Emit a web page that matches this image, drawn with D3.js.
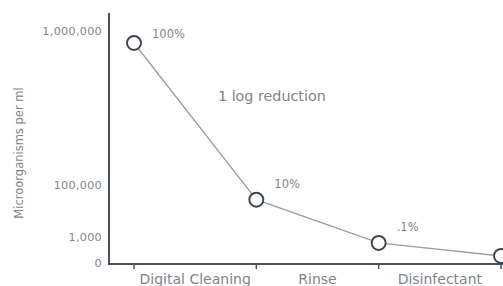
<!DOCTYPE html>
<html><head><meta charset="utf-8">
<script src="https://cdn.jsdelivr.net/npm/d3@7"></script>
<style>
html,body{margin:0;padding:0;background:#fff;overflow:hidden}
svg{display:block}
text{font-family:"DejaVu Sans",sans-serif;fill:#80858b}
</style></head><body>
<svg id="c" width="503" height="286"></svg>
<script>
const stages = ["Digital Cleaning", "Rinse", "Disinfectant"];
const values = [930000, 72000, 770, 270];
const pctLabels = ["100%", "10%", ".1%", ""];
const yTicks = [0, 1000, 100000, 1000000];
const annotation = "1 log reduction";
const yTitle = "Microorganisms per ml";

const svg = d3.select("#c");
const W = 503, H = 286;
const axisX = 109, axisY = 264;

const x = d3.scaleLinear().domain([0, 3]).range([134, 501]);
const y = d3.scaleLinear().domain(yTicks).range([263, 237, 185, 31]);

// y axis
svg.append("line").attr("x1", axisX).attr("x2", axisX).attr("y1", 13).attr("y2", axisY + 1)
  .attr("stroke", "#4a525b").attr("stroke-width", 2);
// x axis
svg.append("line").attr("x1", axisX - 1).attr("x2", W).attr("y1", axisY).attr("y2", axisY)
  .attr("stroke", "#4a525b").attr("stroke-width", 2);

// y tick labels
svg.selectAll(".yt").data(yTicks).join("text")
  .attr("x", axisX - 7).attr("y", d => y(d) + 4)
  .attr("text-anchor", "end").attr("font-size", 11.2).attr("letter-spacing", 0.3)
  .text(d => d3.format(",")(d));

// x ticks
svg.selectAll(".xt").data([0, 1, 2, 3]).join("line")
  .attr("x1", d => x(d)).attr("x2", d => x(d))
  .attr("y1", axisY).attr("y2", axisY + 5)
  .attr("stroke", "#4a525b").attr("stroke-width", 1.5);

// stage labels centered between ticks
svg.selectAll(".st").data(stages).join("text")
  .attr("x", (d, i) => (x(i) + x(i + 1)) / 2).attr("y", 284)
  .attr("text-anchor", "middle").attr("font-size", 14)
  .text(d => d);

// y title
svg.append("text").attr("transform", "translate(23,153) rotate(-90)")
  .attr("text-anchor", "middle").attr("font-size", 11.5).text(yTitle);

// line
const line = d3.line().x((d, i) => x(i)).y(d => y(d));
svg.append("path").datum(values).attr("d", line)
  .attr("fill", "none").attr("stroke", "#9a9ea3").attr("stroke-width", 1.3);

// points
svg.selectAll(".pt").data(values).join("circle")
  .attr("cx", (d, i) => x(i)).attr("cy", d => y(d)).attr("r", 7)
  .attr("fill", "#fff").attr("stroke", "#3c444d").attr("stroke-width", 1.9);

// pct labels
svg.selectAll(".pl").data(values).join("text")
  .attr("x", (d, i) => x(i) + 18).attr("y", (d, i) => y(d) - (i === 0 ? 5 : 12))
  .attr("font-size", 11.5).text((d, i) => pctLabels[i]);

// annotation
svg.append("text").attr("x", 218).attr("y", 101).attr("font-size", 14.3).text(annotation);
</script>
</body></html>
